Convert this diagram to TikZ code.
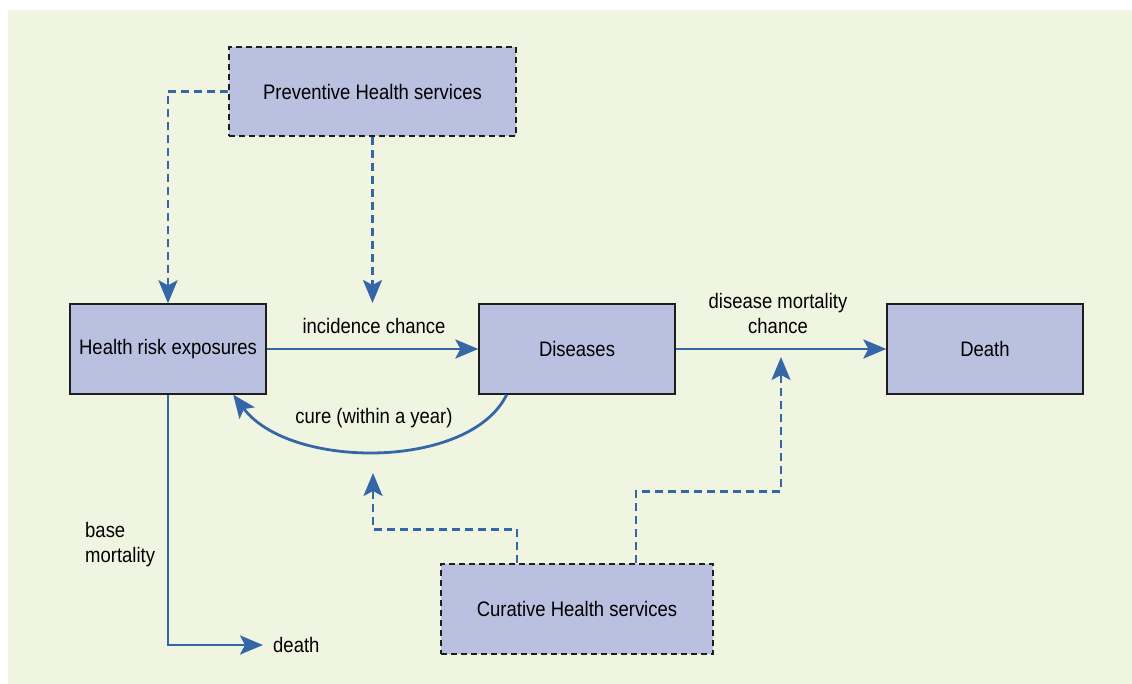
\documentclass[tikz,border=0pt]{standalone}
\usepackage{fontspec}
\setmainfont{Liberation Sans}[FakeStretch=0.88]
\usetikzlibrary{arrows.meta}
\definecolor{panel}{RGB}{240,245,225}
\definecolor{boxfill}{RGB}{186,192,224}
\definecolor{flowblue}{RGB}{53,103,168}
\definecolor{edge}{RGB}{30,30,30}
\tikzset{
  stagebox/.style={draw=edge, fill=boxfill, line width=1.3pt, minimum width=196pt,
    minimum height=90pt, inner sep=0pt, font=\fontsize{21}{24}\selectfont},
  servicebox/.style={stagebox, dash pattern=on 6pt off 4pt},
  lbl/.style={inner sep=0pt, font=\fontsize{21}{25}\selectfont, align=center},
  tip/.style={-{Stealth[length=23pt,width=19pt,inset=5pt]}},
  flow/.style={tip, draw=flowblue, line width=2.8pt},
  flowd/.style={flow, dash pattern=on 8pt off 5pt},
}
\begin{document}
\begin{tikzpicture}[x=1pt,y=-1pt]
\useasboundingbox (0,0) rectangle (1132,684);
\fill[panel] (8,10) rectangle (1132,684);

% boxes
\node[servicebox, minimum width=287pt, minimum height=89pt] (prev) at (372.5,91.5) {Preventive Health services};
\node[stagebox] (hre) at (168,349) {Health risk exposures};
\node[stagebox] (dis) at (577,349) {Diseases};
\node[stagebox] (dth) at (985,349) {Death};
\node[servicebox, minimum width=272pt] (cur) at (577,609) {Curative Health services};

% labels
\node[lbl] (ic) at (374,326) {incidence chance};
\node[lbl] (dm) at (778,313) {disease mortality\\chance};
\node[lbl] (cw) at (374,418) {cure (within a year)};
\node[lbl, align=left, anchor=west] (bm) at (85,545) {base\\mortality};
\node[lbl, anchor=west] (dl) at (273,645) {death};

% free arrow ends
\coordinate (incTip) at (372.5,303);
\coordinate (cureTip) at (373,473);
\coordinate (mortTip) at (781,357);

% preventive influences
\draw[flowd] (prev.west) -| (hre.north);
\draw[flowd] (prev.south) -- (incTip);

% main flow
\draw[flow] (hre) -- (dis);
\draw[flow] (dis) -- (dth);
\draw[flow] (dis.213) .. controls (470,470) and (290,470) .. (hre.-35);
\draw[flow] (hre.south) |- ([xshift=-10pt]dl.west);

% curative influences
\draw[flowd] ([xshift=-60pt]cur.north) -- ++(0,-34) -| (cureTip);
\draw[flowd] ([xshift=59pt]cur.north) -- ++(0,-72) -| (mortTip);
\end{tikzpicture}
\end{document}
